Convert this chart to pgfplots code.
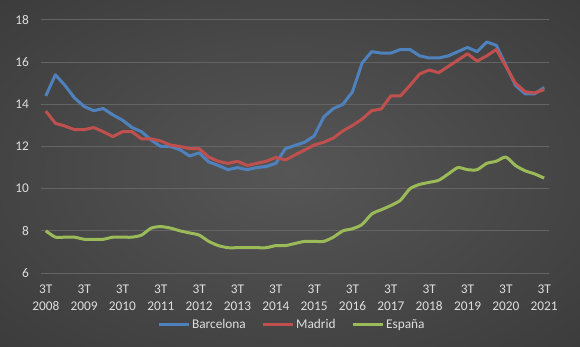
\documentclass[border=0pt]{standalone}
\usepackage{pgfplots}
\pgfplotsset{compat=1.18}
\usepackage{fontspec}
\setmainfont{Carlito}
\definecolor{bcn}{RGB}{79,129,189}
\definecolor{mad}{RGB}{192,80,77}
\definecolor{esp}{RGB}{155,187,89}
\definecolor{txt}{RGB}{222,222,222}
\definecolor{gridc}{RGB}{100,100,100}
\definecolor{bgin}{RGB}{86,86,86}
\definecolor{bgout}{RGB}{34,34,34}
\pgfdeclareradialshading{bgshade}{\pgfpoint{0bp}{0bp}}{color(0bp)=(bgin); color(71bp)=(bgout)}
\pgfplotstableread{
x bcn mad esp
0 14.4 13.68 8.0
1 15.4 13.1 7.7
2 14.9 12.97 7.7
3 14.3 12.8 7.7
4 13.9 12.8 7.6
5 13.7 12.9 7.6
6 13.8 12.7 7.6
7 13.5 12.47 7.7
8 13.25 12.7 7.7
9 12.9 12.7 7.7
10 12.7 12.36 7.8
11 12.3 12.36 8.13
12 12.0 12.26 8.2
13 12.0 12.07 8.13
14 11.85 12.0 8.0
15 11.55 11.9 7.9
16 11.7 11.9 7.8
17 11.27 11.5 7.5
18 11.1 11.3 7.3
19 10.9 11.2 7.2
20 11.0 11.3 7.2
21 10.9 11.1 7.2
22 11.0 11.2 7.2
23 11.05 11.3 7.2
24 11.2 11.48 7.3
25 11.9 11.36 7.3
26 12.05 11.6 7.4
27 12.2 11.83 7.5
28 12.5 12.07 7.5
29 13.4 12.2 7.5
30 13.8 12.4 7.7
31 14.0 12.74 8.0
32 14.6 13.0 8.1
33 15.96 13.3 8.3
34 16.5 13.7 8.8
35 16.43 13.78 9.0
36 16.43 14.4 9.2
37 16.6 14.4 9.45
38 16.6 14.9 10.0
39 16.3 15.44 10.2
40 16.2 15.63 10.3
41 16.2 15.5 10.4
42 16.3 15.8 10.7
43 16.5 16.1 11.0
44 16.7 16.4 10.9
45 16.5 16.05 10.9
46 16.96 16.3 11.2
47 16.8 16.6 11.3
48 15.85 15.8 11.5
49 14.9 15.0 11.1
50 14.5 14.6 10.85
51 14.5 14.54 10.7
52 14.8 14.7 10.5
}\datatable
\begin{document}
\begin{tikzpicture}
\path[use as bounding box, shading=bgshade] (-30.75pt,-54.75pt) rectangle (404.25pt,204.75pt);
\begin{axis}[
  at={(0,0)}, anchor=south west,
  scale only axis, width=381pt, height=189.75pt,
  xmin=-0.5, xmax=52.5, ymin=6, ymax=18,
  ytick={6,8,...,18},
  xtick={0,4,...,52},
  xticklabels={3T\\2008,3T\\2009,3T\\2010,3T\\2011,3T\\2012,3T\\2013,3T\\2014,3T\\2015,3T\\2016,3T\\2017,3T\\2018,3T\\2019,3T\\2020,3T\\2021},
  axis line style={draw=none},
  major tick length=0pt,
  ymajorgrids, grid style={draw=gridc, line width=0.75pt},
  tick label style={text=txt, font=\fontsize{10}{12.75}\selectfont},
  /pgf/number format/assume math mode=true,
  yticklabel style={xshift=-5.5pt},
  xticklabel style={align=center, yshift=-5pt},
  legend style={at={(0.493,-0.2055)}, anchor=center, draw=none, fill=none,
    text=txt, font=\fontsize{10}{12}\selectfont, legend columns=3,
    nodes={inner sep=1pt},
    /tikz/every even column/.append style={column sep=10.5pt},
    inner sep=0pt},
  legend cell align=left,
  legend image code/.code={\draw[#1, line width=2.25pt] (0pt,0pt) -- (23pt,0pt);},
]
\addplot[bcn, line width=2.25pt, line join=round] table[x=x, y=bcn] {\datatable};
\addlegendentry{Barcelona}
\addplot[mad, line width=2.25pt, line join=round] table[x=x, y=mad] {\datatable};
\addlegendentry{Madrid}
\addplot[esp, line width=2.25pt, line join=round, smooth, tension=0.4] table[x=x, y=esp] {\datatable};
\addlegendentry{España}
\end{axis}
\end{tikzpicture}
\end{document}
